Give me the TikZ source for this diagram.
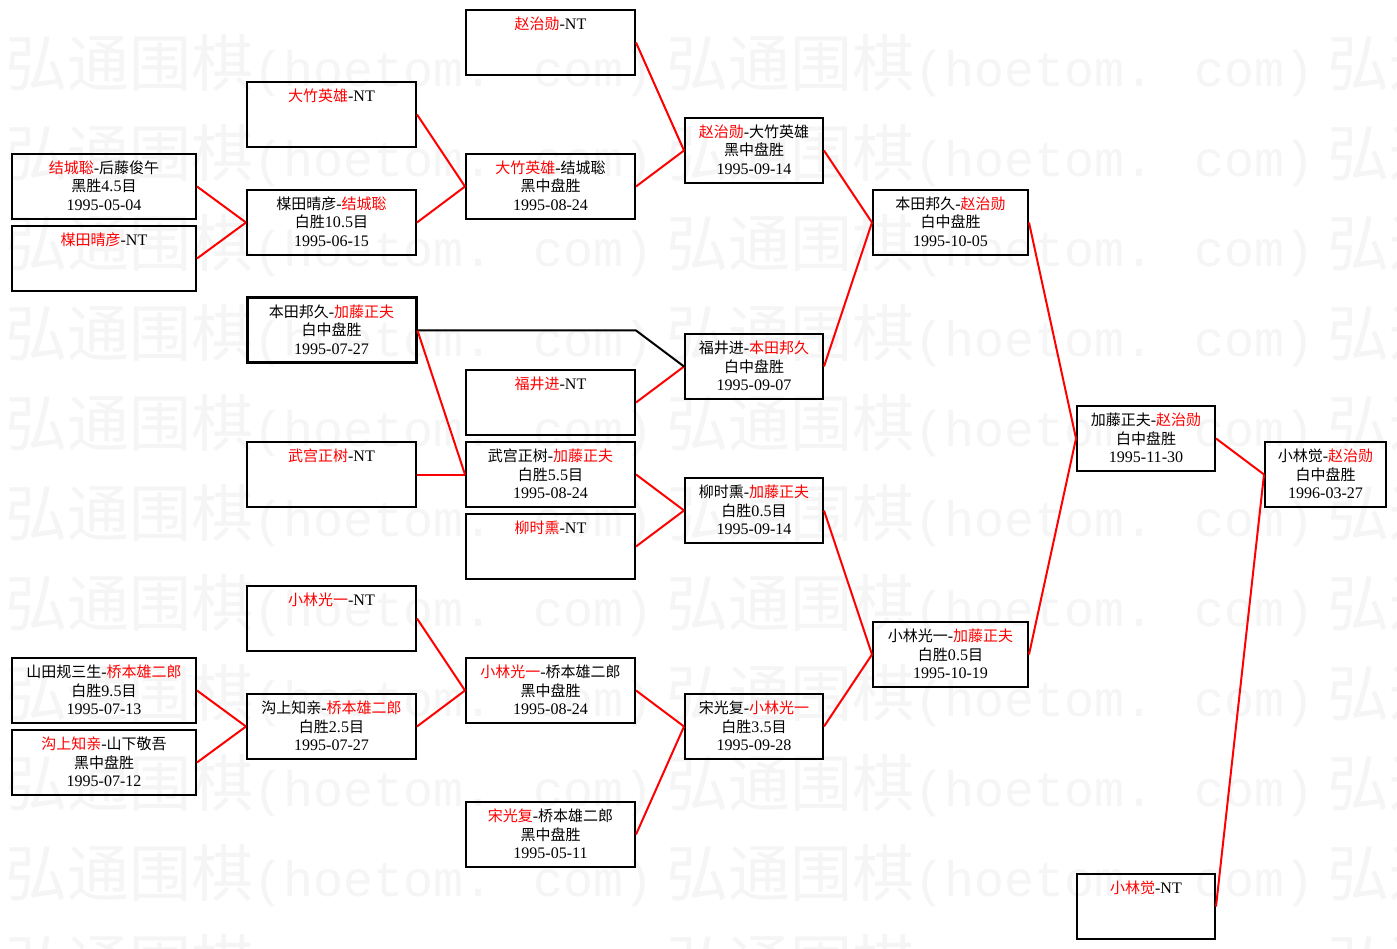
\documentclass[tikz,border=0pt]{standalone}
\usepackage{fontspec}
\setmainfont{Liberation Serif}[Scale=1.07]
\newfontfamily\cjk{Noto Sans CJK SC}
\newfontfamily\wmmono{Liberation Mono}
\newcommand\C[1]{{\cjk #1}}
\newcommand\RC[1]{\textcolor{red}{\cjk #1}}
\newcommand\Sx{\rule[-3pt]{0pt}{17pt}}
\newcommand\three[3]{\Sx#1\\\Sx#2\\\Sx#3}
\newcommand\wmtext{{\cjk\fontsize{62}{62}\selectfont 弘通围棋}{\wmmono\fontsize{50}{50}\selectfont (hoetom. com)}}
\tikzset{
  box/.style={draw=black, line width=2pt, inner sep=0pt, minimum height=65pt,
    align=center, font=\fontsize{15}{18.5}\selectfont},
  thickbox/.style={box, line width=3pt},
  k1/.style={minimum width=184pt},
  k2/.style={minimum width=169pt},
  k3/.style={minimum width=169pt},
  k4/.style={minimum width=138pt},
  k5/.style={minimum width=155pt},
  k6/.style={minimum width=138pt},
  k7/.style={minimum width=121pt},
  wire/.style={draw=red, line width=2pt},
  bwire/.style={draw=black, line width=2pt},
  wm/.style={text=black!4, inner sep=0pt, anchor=west}
}
\begin{document}
\begin{tikzpicture}[x=1pt, y=-1pt]
\path[use as bounding box, clip] (0,0) rectangle (1397,949);
\fill[white] (0,0) rectangle (1397,949);
% watermark
\foreach \r in {0,...,10}{
  \foreach \c in {0,1,2}{
    \node[wm] (wm\r-\c) at ({5+661*\c}, {66+90*\r}) {\wmtext};
  }
}
% column 1
\node[box,k1] (a1) at (104,186.5) {\three{\RC{结城聡}-\C{后藤俊午}}{\C{黑胜}4.5\C{目}}{1995-05-04}};
\node[box,k1] (a2) at (104,258.5) {\three{\RC{楳田晴彦}-NT}{}{}};
\node[box,k1] (a3) at (104,690.5) {\three{\C{山田规三生}-\RC{桥本雄二郎}}{\C{白胜}9.5\C{目}}{1995-07-13}};
\node[box,k1] (a4) at (104,762.5) {\three{\RC{沟上知亲}-\C{山下敬吾}}{\C{黑中盘胜}}{1995-07-12}};
% column 2
\node[box,k2] (b1) at (331.5,114.5) {\three{\RC{大竹英雄}-NT}{}{}};
\node[box,k2] (b2) at (331.5,222.5) {\three{\C{楳田晴彦}-\RC{结城聡}}{\C{白胜}10.5\C{目}}{1995-06-15}};
\node[thickbox,k2] (b3) at (331.5,330.5) {\three{\C{本田邦久}-\RC{加藤正夫}}{\C{白中盘胜}}{1995-07-27}};
\node[box,k2] (b4) at (331.5,474.5) {\three{\RC{武宫正树}-NT}{}{}};
\node[box,k2] (b5) at (331.5,618.5) {\three{\RC{小林光一}-NT}{}{}};
\node[box,k2] (b6) at (331.5,726.5) {\three{\C{沟上知亲}-\RC{桥本雄二郎}}{\C{白胜}2.5\C{目}}{1995-07-27}};
% column 3
\node[box,k3] (c1) at (550.5,42.5) {\three{\RC{赵治勋}-NT}{}{}};
\node[box,k3] (c2) at (550.5,186.5) {\three{\RC{大竹英雄}-\C{结城聡}}{\C{黑中盘胜}}{1995-08-24}};
\node[box,k3] (c3) at (550.5,402.5) {\three{\RC{福井进}-NT}{}{}};
\node[box,k3] (c4) at (550.5,474.5) {\three{\C{武宫正树}-\RC{加藤正夫}}{\C{白胜}5.5\C{目}}{1995-08-24}};
\node[box,k3] (c5) at (550.5,546.5) {\three{\RC{柳时熏}-NT}{}{}};
\node[box,k3] (c6) at (550.5,690.5) {\three{\RC{小林光一}-\C{桥本雄二郎}}{\C{黑中盘胜}}{1995-08-24}};
\node[box,k3] (c7) at (550.5,834.5) {\three{\RC{宋光复}-\C{桥本雄二郎}}{\C{黑中盘胜}}{1995-05-11}};
% column 4
\node[box,k4] (d1) at (754,150.5) {\three{\RC{赵治勋}-\C{大竹英雄}}{\C{黑中盘胜}}{1995-09-14}};
\node[box,k4] (d2) at (754,366.5) {\three{\C{福井进}-\RC{本田邦久}}{\C{白中盘胜}}{1995-09-07}};
\node[box,k4] (d3) at (754,510.5) {\three{\C{柳时熏}-\RC{加藤正夫}}{\C{白胜}0.5\C{目}}{1995-09-14}};
\node[box,k4] (d4) at (754,726.5) {\three{\C{宋光复}-\RC{小林光一}}{\C{白胜}3.5\C{目}}{1995-09-28}};
% column 5
\node[box,k5] (e1) at (950.5,222.5) {\three{\C{本田邦久}-\RC{赵治勋}}{\C{白中盘胜}}{1995-10-05}};
\node[box,k5] (e2) at (950.5,654.5) {\three{\C{小林光一}-\RC{加藤正夫}}{\C{白胜}0.5\C{目}}{1995-10-19}};
% column 6
\node[box,k6] (f1) at (1146,438.5) {\three{\C{加藤正夫}-\RC{赵治勋}}{\C{白中盘胜}}{1995-11-30}};
\node[box,k6] (f2) at (1146,906.5) {\three{\RC{小林觉}-NT}{}{}};
% column 7
\node[box,k7] (g1) at (1325.5,474.5) {\three{\C{小林觉}-\RC{赵治勋}}{\C{白中盘胜}}{1996-03-27}};
% connectors
\draw[wire] (a1.east) -- (b2.west);
\draw[wire] (a2.east) -- (b2.west);
\draw[wire] (b1.east) -- (c2.west);
\draw[wire] (b2.east) -- (c2.west);
\draw[wire] (c1.east) -- (d1.west);
\draw[wire] (c2.east) -- (d1.west);
\draw[wire] (d1.east) -- (e1.west);
\draw[wire] (d2.east) -- (e1.west);
\draw[wire] (c3.east) -- (d2.west);
\draw[bwire] (b3.east) -- (b3.east -| c3.east) -- (d2.west);
\draw[wire] (b3.east) -- (c4.west);
\draw[wire] (b4.east) -- (c4.west);
\draw[wire] (c4.east) -- (d3.west);
\draw[wire] (c5.east) -- (d3.west);
\draw[wire] (d3.east) -- (e2.west);
\draw[wire] (d4.east) -- (e2.west);
\draw[wire] (b5.east) -- (c6.west);
\draw[wire] (b6.east) -- (c6.west);
\draw[wire] (a3.east) -- (b6.west);
\draw[wire] (a4.east) -- (b6.west);
\draw[wire] (c6.east) -- (d4.west);
\draw[wire] (c7.east) -- (d4.west);
\draw[wire] (e1.east) -- (f1.west);
\draw[wire] (e2.east) -- (f1.west);
\draw[wire] (f1.east) -- (g1.west);
\draw[wire] (f2.east) -- (g1.west);
\end{tikzpicture}
\end{document}
